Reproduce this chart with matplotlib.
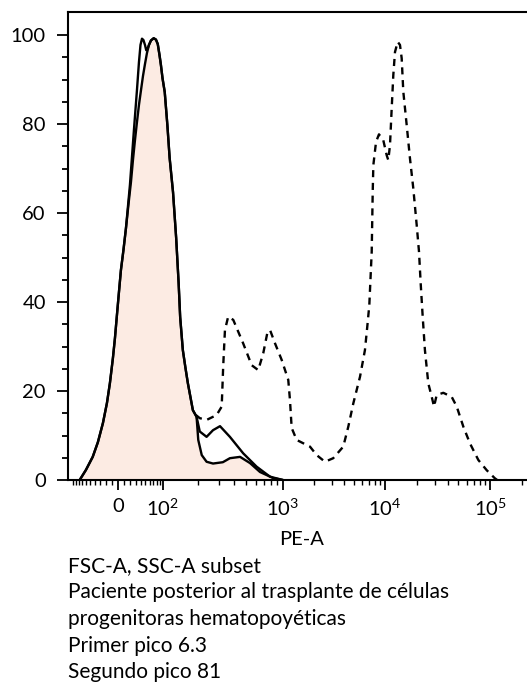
import numpy as np
import matplotlib
matplotlib.use("Agg")
import matplotlib.pyplot as plt
from matplotlib.ticker import FixedLocator, FixedFormatter

plt.rcParams['font.family'] = ['Lato', 'DejaVu Sans']
plt.rcParams['mathtext.fontset'] = 'custom'
plt.rcParams['mathtext.rm'] = 'Lato'
plt.rcParams['mathtext.it'] = 'Lato'

# ---------------- data (PE-A intensity, % of max) ----------------
filled_x = [-78, -60.9, -45, -34.4, -25, -18.0, -13, -8.1, -4.8, -1.6, 1.6, 4.8, 8.9,
            13.0, 18.0, 21.5, 25.0, 28.7, 32.4, 36.3, 40.4, 44.6, 49.0, 53.6, 58.4,
            63.4, 70.7, 77.2, 82.7, 88.3, 92.9, 98.5, 103.8, 109.6, 114.8, 123, 131,
            137.6, 141.9, 149.6, 157.5, 165, 182, 195.6, 202, 216, 237, 268, 323,
            369, 447, 539, 650, 830, 1000]
filled_y = [0, 2.25, 5.2, 8.5, 12.8, 17.3, 21.8, 27.4, 31.9, 37.1, 42.2, 47.2, 51.7,
            56.6, 62.9, 67.0, 71.9, 76.4, 80.4, 84.3, 87.6, 90.8, 93.5, 96.0, 97.8,
            98.8, 99.3, 99.0, 98.0, 95.5, 93.3, 90.3, 87.2, 79.8, 72.4, 64.7, 54.4,
            44.3, 36.6, 29.2, 25.2, 21.8, 15.7, 14.2, 9.0, 5.6, 4.1, 3.7, 4.0,
            4.9, 5.2, 3.8, 1.8, 0.45, 0]

open_x = [-78, -60.9, -45, -34.4, -25, -18.0, -13, -8.1, -4.8, -1.6, 1.6, 4.8, 8.9,
          13.0, 19.7, 26.8, 32.4, 36.3, 39.4, 42.5, 45.6, 49.0, 51.9, 55.9, 58.4,
          63.4, 70.7, 77.2, 82.7, 88.3, 92.9, 98.5, 103.8, 109.6, 114.8, 123, 131,
          137.6, 141.9, 149.6, 157.5, 165, 182, 195.6, 208, 237, 268, 306, 369,
          474, 610, 785, 1000]
open_y = [0, 2.25, 5.2, 8.5, 12.8, 17.3, 21.8, 27.4, 31.9, 37.1, 42.2, 47.2, 51.7,
          56.6, 66.3, 78.7, 87.6, 93.9, 97.8, 99.2, 98.9, 97.8, 96.6, 97.2, 97.8,
          98.8, 99.3, 99.0, 98.0, 95.5, 93.3, 90.3, 87.2, 79.8, 72.4, 64.7, 54.4,
          44.3, 36.6, 29.2, 25.2, 21.8, 15.7, 14.2, 10.9, 9.7, 11.2, 12.1, 9.7,
          6.0, 3.0, 0.74, 0]

dash_x = [193, 208, 237, 287, 316, 325, 336, 357, 393, 474,
          556, 629, 691, 745, 785, 862, 976, 1127, 1171, 1217,
          1363, 1840, 2140, 2580, 3110, 3900, 4370, 4890, 5690, 6360,
          6700, 7020, 7410, 7580, 7690, 8170, 8730, 9620, 10380, 10750,
          11160, 11580, 12000, 12450, 13210, 13890, 14420, 14940, 16090, 17290,
          18590, 20040, 21080, 21870, 22860, 24000, 25850, 27860, 29300, 31050,
          35900, 43150, 48200, 55700, 64500, 77400, 93000, 111000, 117000]
dash_y = [14.6, 13.9, 13.5, 14.6, 16.5, 25.5, 33.7, 36.7, 36.0, 30.7,
          25.8, 24.7, 28.5, 33.0, 33.7, 30.7, 27.0, 22.5, 18.0, 11.7,
          9.0, 7.5, 5.6, 4.1, 4.9, 7.5, 12.0, 17.2, 23.2, 29.2,
          34.4, 39.3, 51.3, 64.8, 70.8, 76.0, 77.7, 76.4, 73.0, 71.9,
          75.3, 83.5, 91.0, 96.2, 98.5, 97.8, 94.8, 87.3, 79.8, 72.3,
          65.6, 57.3, 51.3, 44.2, 36.7, 29.2, 21.7, 18.7, 16.5, 19.1,
          19.6, 18.7, 16.5, 12.0, 8.2, 4.5, 2.2, 0.4, 0]

x_tick_values = [0, 100, 1000, 10000, 100000]
x_tick_labels = ['0', r'$10^{2}$', r'$10^{3}$', r'$10^{4}$', r'$10^{5}$']
y_tick_values = [0, 20, 40, 60, 80, 100]
x_label = 'PE-A'
caption_lines = ['FSC-A, SSC-A subset',
                 'Paciente posterior al trasplante de células',
                 'progenitoras hematopoyéticas',
                 'Primer pico 6.3',
                 'Segundo pico 81']

# ---------------- biexponential-like scale ----------------
_S = np.arcsinh(np.array(x_tick_values, float) / 50.0)
_P = np.array([118.0, 163.0, 283.0, 385.0, 490.0])


def _fwd(v):
    s = np.arcsinh(np.asarray(v, float) / 50.0)
    out = np.interp(s, _S, _P)
    k0 = (_P[1] - _P[0]) / (_S[1] - _S[0])
    k1 = (_P[-1] - _P[-2]) / (_S[-1] - _S[-2])
    out = np.where(s < _S[0], _P[0] + (s - _S[0]) * k0, out)
    out = np.where(s > _S[-1], _P[-1] + (s - _S[-1]) * k1, out)
    return out


def _inv(p):
    p = np.asarray(p, float)
    s = np.interp(p, _P, _S)
    k0 = (_S[1] - _S[0]) / (_P[1] - _P[0])
    k1 = (_S[-1] - _S[-2]) / (_P[-1] - _P[-2])
    s = np.where(p < _P[0], _S[0] + (p - _P[0]) * k0, s)
    s = np.where(p > _P[-1], _S[-1] + (p - _P[-1]) * k1, s)
    return 50.0 * np.sinh(s)


# ---------------- figure ----------------
W, H = 527, 682
fig = plt.figure(figsize=(W / 100, H / 100), dpi=100)
ax = fig.add_axes([68 / W, (H - 480) / H, (W - 68) / W, (480 - 12) / H])
ax.set_xscale('function', functions=(_fwd, _inv))
ax.set_xlim(-119, 2.25e5)
ax.set_ylim(0, 105.2)

fill_col = '#fcebe3'
ax.fill_between(filled_x, filled_y, 0, color=fill_col, lw=0, zorder=1)
ax.plot(filled_x, filled_y, color='black', lw=1.7, zorder=3,
        solid_joinstyle='round', solid_capstyle='round')
ax.plot(open_x, open_y, color='black', lw=1.7, zorder=3,
        solid_joinstyle='round', solid_capstyle='round')
ax.plot(dash_x, dash_y, color='black', lw=1.7, zorder=3, dashes=(3.0, 2.4))

ax.spines['right'].set_visible(False)
for side in ['left', 'top', 'bottom']:
    ax.spines[side].set_linewidth(1.5)

# y ticks
ax.yaxis.set_major_locator(FixedLocator(y_tick_values))
ax.yaxis.set_minor_locator(FixedLocator([v for v in range(5, 105, 5) if v % 20]))
ax.tick_params(axis='y', which='major', length=8, width=1.3, pad=8, labelsize=14.5)
ax.tick_params(axis='y', which='minor', length=4.3, width=1.3)

# x ticks
minor_x = [-100, -90, -80, -70, -60, -50, -40, -30, -20, -10,
           10, 20, 30, 40, 50, 60, 70, 80, 90]
for dec in [100, 1000, 10000, 100000]:
    for k in range(2, 10):
        v = k * dec
        if v < 2.25e5:
            minor_x.append(v)
ax.xaxis.set_major_locator(FixedLocator(x_tick_values))
ax.xaxis.set_major_formatter(FixedFormatter(x_tick_labels))
ax.xaxis.set_minor_locator(FixedLocator(minor_x))
ax.tick_params(axis='x', which='major', length=7, width=1.3, pad=6, labelsize=14.5)
ax.tick_params(axis='x', which='minor', length=3.6, width=1.0)

fig.text(301.7 / W, (H - 545) / H, x_label, ha='center', va='baseline', fontsize=14.5)
for i, line in enumerate(caption_lines):
    fig.text(68 / W, (H - 571.7 - i * 26.67) / H, line, ha='left', va='baseline',
             fontsize=15)

fig.savefig('out.png', dpi=100)
